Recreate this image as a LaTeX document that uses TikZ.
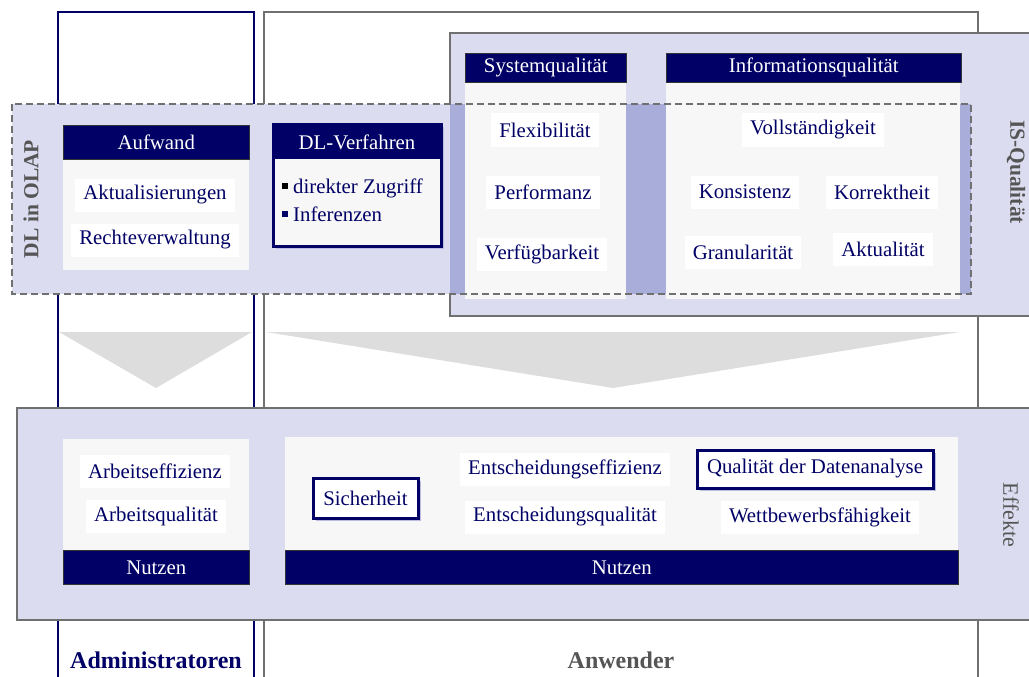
\documentclass[tikz,border=0pt]{standalone}
\usepackage{fontspec}
\setmainfont{Liberation Serif}
\definecolor{navy}{HTML}{000066}
\definecolor{lav}{HTML}{DCDCF0}
\definecolor{lavdark}{HTML}{A9ADDA}
\definecolor{bodyfill}{HTML}{F7F7F7}
\definecolor{framegray}{HTML}{707070}
\definecolor{labelgray}{HTML}{555555}
\definecolor{arrowgray}{HTML}{DDDDDD}
\newcommand\diagfont{\fontsize{20.8}{24}\selectfont}
\begin{document}
\begin{tikzpicture}[x=1pt,y=-1pt,
  item/.style={fill=white, text=navy, font=\diagfont, inner xsep=8pt, inner ysep=0pt, minimum height=33pt},
  hdr/.style={fill=navy, draw=black!80, line width=0.6pt, text=white, font=\diagfont, inner sep=0pt, anchor=north west},
  framebox/.style={draw=navy, line width=3pt, fill=white, text=navy, font=\diagfont, inner sep=0pt},
  shadowbox/.style={fill=lavdark!80},
  sidelabel/.style={text=labelgray, font=\fontsize{21.5}{24}\selectfont\bfseries},
  collabel/.style={font=\fontsize{24}{27}\selectfont\bfseries}
]
\useasboundingbox (0,0) rectangle (1029,677);

% user columns
\draw[navy, line width=1.2pt] (58,690) -- (58,12) -- (254,12) -- (254,690);
\draw[navy, line width=2.6pt] (254,12) -- (254,690);
\draw[framegray, line width=1.5pt] (264,690) -- (264,12) -- (978,12) -- (978,690);

% IS quality panel
\filldraw[fill=lav, draw=framegray, line width=1.5pt] (450,33) rectangle (1045,316);

% DL in OLAP panel (background, overlap with IS panel is darker)
\fill[lav] (12,104) rectangle (971,294);
\fill[lavdark] (450,104) rectangle (971,294);

% Systemqualitaet
\fill[bodyfill] (465,82) rectangle (626,299);
\node[hdr, minimum width=161pt, minimum height=29pt] (sysq) at (465,53) {Systemqualität};
\node[item] (flex) at (545,130) {Flexibilität};
\node[item] (perf) at (543,192) {Performanz};
\node[item] (verf) at (542,254) {Verfügbarkeit};

% Informationsqualitaet
\fill[bodyfill] (666,82) rectangle (960,299);
\node[hdr, minimum width=295pt, minimum height=29pt] (infq) at (666,53) {Informationsqualität};
\node[item] (voll) at (813,130) {Vollständigkeit};
\node[item] (kons) at (745,192) {Konsistenz};
\node[item] (korr) at (882,192) {Korrektheit};
\node[item] (gran) at (743,252) {Granularität};
\node[item] (aktu) at (883,249) {Aktualität};

% Aufwand
\fill[bodyfill] (63,159) rectangle (249,270);
\node[hdr, minimum width=186pt, minimum height=34pt] (aufw) at (63,125) {Aufwand};
\node[item] (aktual) at (155,195) {Aktualisierungen};
\node[item] (recht) at (155,240) {Rechteverwaltung};

% DL-Verfahren
\fill[shadowbox] (276,127) rectangle (444,249);
\filldraw[fill=bodyfill, draw=navy, line width=3pt] (273,124) rectangle (441,246);
\fill[navy] (273,124) rectangle (441,159);
\node[text=white, font=\diagfont] (dlv) at (357,142) {DL-Verfahren};
\node[anchor=west, text=navy, font=\diagfont, inner sep=0pt] (zugriff) at (282,188)
  {\textcolor{black}{\rule[0.2em]{6pt}{6pt}}\hspace{5pt}direkter Zugriff};
\node[anchor=west, text=navy, font=\diagfont, inner sep=0pt] (infer) at (282,214)
  {\textcolor{navy}{\rule[0.2em]{6pt}{6pt}}\hspace{5pt}Inferenzen};

% dashed frame of DL in OLAP
\draw[framegray, dashed, dash pattern=on 7pt off 4pt, line width=1.4pt] (12,104) rectangle (971,294);
\node[sidelabel, rotate=90] (dlolap) at (31,199) {DL in OLAP};
\node[sidelabel, rotate=-90] (isq) at (1016,172) {IS-Qualität};

% flow wedges
\fill[arrowgray] (59,332) -- (252,332) -- (156,388) -- cycle;
\fill[arrowgray] (266,332) -- (960,332) -- (613,388) -- cycle;

% Effekte panel
\filldraw[fill=lav, draw=framegray, line width=1.5pt] (17,408) rectangle (1045,620);
\node[text=labelgray, font=\fontsize{22}{25}\selectfont, rotate=-90] (eff) at (1011,515) {Effekte};

% benefits of administrators
\fill[bodyfill] (63,439) rectangle (249,550);
\node[hdr, minimum width=186pt, minimum height=34pt] (nutzA) at (63,550) {Nutzen};
\node[item] (aeff) at (155,471) {Arbeitseffizienz};
\node[item] (aqual) at (156,516) {Arbeitsqualität};

% benefits of users
\fill[bodyfill] (285,437) rectangle (958,550);
\node[hdr, minimum width=673pt, minimum height=34pt] (nutzB) at (285,550) {Nutzen};
\fill[shadowbox] (316,481) rectangle (421,521);
\node[framebox, minimum width=105pt, minimum height=40pt] (sich) at (365.5,498) {Sicherheit};
\node[item] (eeff) at (565,469) {Entscheidungseffizienz};
\node[item] (equal) at (565,517) {Entscheidungsqualität};
\fill[shadowbox] (700,453) rectangle (936,491);
\node[framebox, minimum width=236pt, minimum height=38pt] (qda) at (815,469) {Qualität der Datenanalyse};
\node[item] (wett) at (820,517) {Wettbewerbsfähigkeit};

% column labels
\node[collabel, text=navy] (admin) at (156,660) {Administratoren};
\node[collabel, text=labelgray] (anw) at (621,660) {Anwender};
\end{tikzpicture}
\end{document}
